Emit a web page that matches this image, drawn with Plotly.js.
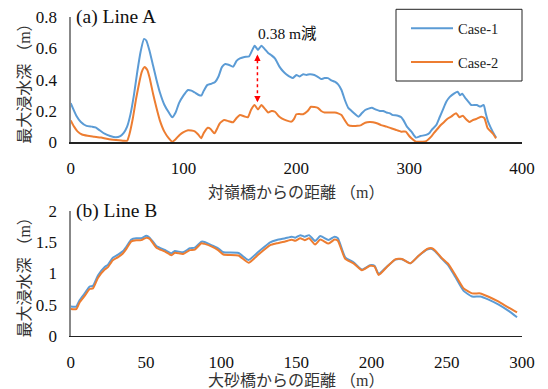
<!DOCTYPE html>
<html>
<head>
<meta charset="utf-8">
<script src="https://cdn.plot.ly/plotly-3.0.1.min.js"></script>
<style>html,body{margin:0;padding:0;background:#fff;}#chart{width:548px;height:389px;}</style>
</head>
<body>
<div id="chart"></div>
<script>
// ---- Line A (top) ----
const xA1 = [0,5,9,14,19,22,26,30,35,40,44,47,50,53,56,59,62,65,67,70,73,76,79,83,87,90,93,96,100,104,107,110,114,116,118,121,125,128,131,134,137,140,144,147,150,154,158,161,163,166,169,172,175,178,181,185,188,191,194,197,200,203,206,209,212,216,219,222,225,228,231,234,237,240,243,246,249,252,255,258,261,264,267,270,274,277,280,283,285,290,293,295,298,302,306,310,315,318,320,324,327,330,333,336,340,343,345,347,350,353,355,360,363,366,368,370,374,377];
const yA1 = [0.25,0.17,0.13,0.105,0.1,0.095,0.075,0.055,0.04,0.032,0.04,0.06,0.1,0.18,0.3,0.45,0.58,0.66,0.65,0.58,0.49,0.4,0.32,0.24,0.19,0.16,0.19,0.25,0.3,0.334,0.33,0.318,0.3,0.3,0.33,0.365,0.375,0.385,0.42,0.48,0.5,0.495,0.483,0.52,0.536,0.545,0.548,0.59,0.617,0.59,0.617,0.595,0.57,0.555,0.536,0.483,0.455,0.434,0.42,0.41,0.43,0.42,0.435,0.43,0.435,0.43,0.418,0.404,0.41,0.41,0.395,0.387,0.37,0.334,0.27,0.22,0.2,0.18,0.163,0.185,0.206,0.215,0.22,0.21,0.2,0.2,0.19,0.185,0.175,0.17,0.16,0.14,0.1,0.068,0.03,0.04,0.047,0.06,0.08,0.11,0.16,0.21,0.26,0.29,0.313,0.323,0.3,0.31,0.28,0.255,0.238,0.238,0.228,0.238,0.18,0.13,0.068,0.03];
const xA2 = [0,3,6,10,15,21,27,33,40,47,50,52,55,58,61,63,65.5,68,70,73,76,79,83,87,90,93,96.5,100,104,107,110,113,115.6,118,121.5,124,127.4,130,132,136,140,144,147,150,154,157,160,163,166,169,172,175,178,181,184,187,191,195.6,198,200,203,206,210,213,216,219,222,225,229,234,237,240,243,246,250,254,257.5,261,265,268,272,275,280,284,288,293,297,300,302,306,310,315,319.5,322,325,328,331,334,337,341.6,344.6,347.6,350,353.4,356,359.3,363.7,366.6,369.6,374,377];
const yA2 = [0.14,0.1,0.07,0.05,0.042,0.036,0.03,0.021,0.015,0.01,0.01,0.05,0.15,0.28,0.39,0.45,0.48,0.46,0.41,0.31,0.22,0.14,0.068,0.025,0.004,0.02,0.047,0.065,0.077,0.075,0.07,0.05,0.026,0.06,0.093,0.085,0.057,0.09,0.12,0.142,0.135,0.128,0.155,0.174,0.165,0.16,0.21,0.238,0.21,0.238,0.215,0.19,0.2,0.195,0.17,0.153,0.14,0.132,0.15,0.179,0.18,0.179,0.2,0.227,0.225,0.22,0.2,0.19,0.19,0.19,0.185,0.174,0.14,0.11,0.104,0.105,0.11,0.125,0.13,0.128,0.12,0.11,0.1,0.09,0.08,0.068,0.068,0.04,0.026,0.004,0.004,0.008,0.036,0.06,0.085,0.11,0.13,0.15,0.163,0.185,0.16,0.17,0.15,0.13,0.14,0.149,0.163,0.155,0.09,0.057,0.025];

// ---- Line B (bottom) ----
const xB = [0,3.7,6,9.3,12.6,14.8,18.2,22.6,24.8,28,31.5,34.8,37,40.3,43.6,47,50.3,52.5,57,62.5,67,69.2,74.7,79.2,82.5,86.9,89,93.5,98,101.5,111.5,118.2,124.8,132.6,137,142.6,147,149.3,152.6,155.5,158.5,162.5,165.9,171.4,175.4,177.6,182.5,188,193.6,199,202,204.7,210.3,215.8,220.2,225.8,231.3,236.9,240.2,242.4,246.8,251.2,255.7,261.2,266.8,272.3,277.8,284.5,291.1,296.7];
const yB1 = [0.47,0.47,0.575,0.68,0.79,0.8,0.97,1.1,1.14,1.25,1.3,1.357,1.425,1.54,1.56,1.56,1.6,1.57,1.436,1.373,1.32,1.357,1.336,1.4,1.41,1.505,1.5,1.45,1.4,1.336,1.325,1.213,1.345,1.495,1.532,1.56,1.585,1.57,1.61,1.585,1.61,1.516,1.596,1.532,1.585,1.56,1.256,1.176,1.06,1.13,1.12,0.99,1.11,1.22,1.225,1.16,1.28,1.38,1.39,1.35,1.23,1.12,0.94,0.72,0.63,0.63,0.58,0.5,0.4,0.3];
const yB2 = [0.43,0.43,0.54,0.64,0.75,0.76,0.93,1.06,1.1,1.21,1.26,1.32,1.39,1.51,1.53,1.53,1.57,1.55,1.41,1.35,1.29,1.33,1.31,1.37,1.38,1.48,1.47,1.43,1.37,1.3,1.285,1.17,1.3,1.45,1.48,1.51,1.535,1.52,1.56,1.53,1.56,1.46,1.54,1.475,1.54,1.52,1.23,1.16,1.05,1.12,1.11,0.975,1.105,1.224,1.23,1.16,1.282,1.389,1.4,1.36,1.24,1.144,0.974,0.76,0.68,0.68,0.627,0.547,0.452,0.378];

const seriesNames = ['Case-1','Case-2'];
const colors = ['#5B9BD5','#ED7D31'];
const diffLabel = '0.38 m減';
const diffX = 165.5, diffTop = 0.56, diffBottom = 0.255;

const serif = '"Liberation Serif", "Noto Sans CJK JP", serif';
const lineCfg = (c) => ({color: c, width: 2, shape: 'spline', smoothing: 0.5});

const traces = [
  {x: xA1, y: yA1, name: seriesNames[0], mode: 'lines', line: lineCfg(colors[0]), xaxis: 'x', yaxis: 'y', legendgroup: 'g1'},
  {x: xA2, y: yA2, name: seriesNames[1], mode: 'lines', line: lineCfg(colors[1]), xaxis: 'x', yaxis: 'y', legendgroup: 'g2'},
  {x: xB, y: yB1, name: seriesNames[0], mode: 'lines', line: lineCfg(colors[0]), xaxis: 'x2', yaxis: 'y2', showlegend: false},
  {x: xB, y: yB2, name: seriesNames[1], mode: 'lines', line: lineCfg(colors[1]), xaxis: 'x2', yaxis: 'y2', showlegend: false}
];

const tickFont = {family: serif, size: 17, color: '#111'};
const titleFont = {family: serif, size: 16, color: '#333'};
const xBase = {
  showgrid: false, zeroline: false, showline: true, linecolor: '#222', linewidth: 1.3,
  ticks: 'outside', ticklen: 10, tickcolor: 'rgba(0,0,0,0)', tickfont: tickFont,
  domain: [70.7/548, 522/548]
};
const yBase = {
  showgrid: false, zeroline: false, showline: true, linecolor: '#888', linewidth: 1.3,
  ticks: 'outside', ticklen: 9, tickcolor: 'rgba(0,0,0,0)', tickfont: tickFont
};

const layout = {
  width: 548, height: 389,
  margin: {l: 0, r: 0, t: 0, b: 0},
  paper_bgcolor: '#fff', plot_bgcolor: '#fff',
  showlegend: true,
  xaxis: Object.assign({}, xBase, {anchor: 'y', range: [0, 400], dtick: 100,
    title: {text: '対嶺橋からの距離 （m）', font: titleFont, standoff: 9}}),
  yaxis: Object.assign({}, yBase, {anchor: 'x', range: [0, 0.8], dtick: 0.2,
    domain: [1 - 142.3/389, 1 - 17/389],
    title: {text: '最大浸水深 （m）', font: titleFont, standoff: 1}}),
  xaxis2: Object.assign({}, xBase, {anchor: 'y2', range: [0, 300], dtick: 50,
    title: {text: '大砂橋からの距離 （m）', font: titleFont, standoff: 3}}),
  yaxis2: Object.assign({}, yBase, {anchor: 'x2', range: [0, 2], dtick: 0.5,
    domain: [1 - 336/389, 1 - 210.7/389],
    title: {text: '最大浸水深 （m）', font: titleFont, standoff: 1}}),
  legend: {
    x: 406/548, y: 1 - 12.3/389, xanchor: 'left', yanchor: 'top',
    borderwidth: 0, bgcolor: 'rgba(0,0,0,0)',
    font: {family: serif, size: 14.5, color: '#222'},
    tracegroupgap: 12, itemwidth: 42
  },
  annotations: [
    {xref: 'x', yref: 'y', x: 3, y: 0.8, xanchor: 'left', yanchor: 'middle', showarrow: false,
     text: '(a) Line A', font: {family: serif, size: 19.5, color: '#111'}},
    {xref: 'x2', yref: 'y2', x: 2, y: 2, xanchor: 'left', yanchor: 'middle', showarrow: false,
     text: '(b) Line B', font: {family: serif, size: 19.5, color: '#111'}},
    {xref: 'x', yref: 'y', x: diffX + 27, y: 0.695, xanchor: 'center', yanchor: 'middle', showarrow: false,
     text: diffLabel, font: {family: serif, size: 15.5, color: '#111'}},
    {xref: 'x', yref: 'y', x: diffX, y: diffTop, ax: 0, ay: 7, showarrow: true,
     text: '', arrowhead: 2, arrowsize: 0.9, arrowwidth: 1.4, arrowcolor: '#FF0000'},
    {xref: 'x', yref: 'y', x: diffX, y: diffBottom, ax: 0, ay: -7, showarrow: true,
     text: '', arrowhead: 2, arrowsize: 0.9, arrowwidth: 1.4, arrowcolor: '#FF0000'}
  ],
  shapes: [
    {type: 'line', xref: 'x', yref: 'y', x0: diffX, x1: diffX, y0: diffBottom + 0.02, y1: diffTop - 0.02,
     line: {color: '#FF0000', width: 1.5, dash: 'dot'}},
    // legend frame
    {type: 'rect', xref: 'paper', yref: 'paper', x0: 396/548, x1: 522/548, y0: 1 - 81/389, y1: 1 - 9.3/389,
     line: {color: '#222', width: 1}, fillcolor: 'rgba(0,0,0,0)'}
  ]
};

Plotly.newPlot('chart', traces, layout, {displayModeBar: false, staticPlot: true});
</script>
</body>
</html>
